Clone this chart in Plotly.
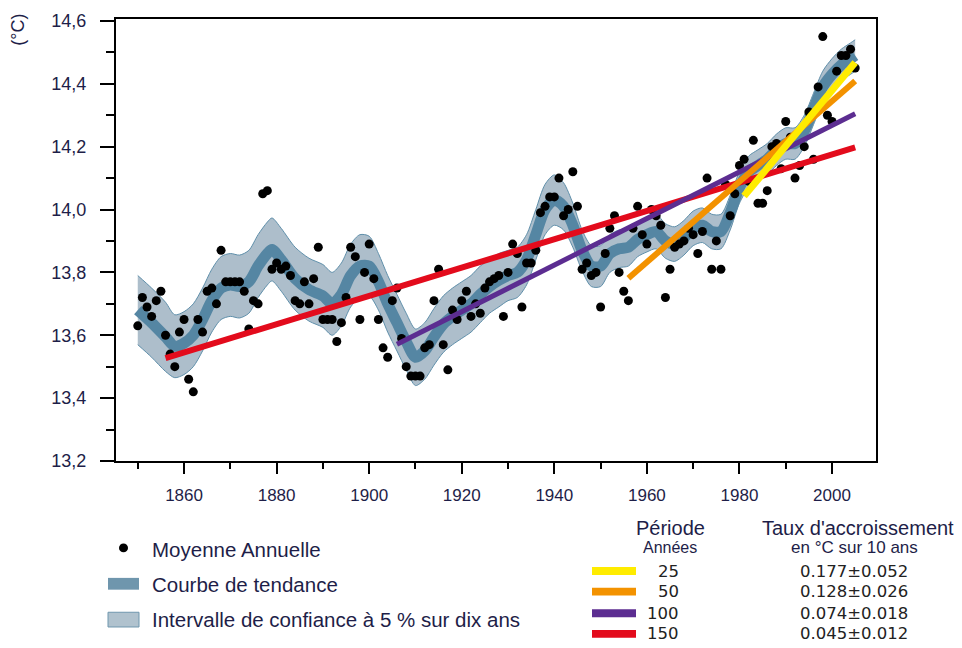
import plotly.graph_objects as go

# ---------------------------------------------------------------- data
years = list(range(1850, 2006))

annual_mean = [
    13.63, 13.72, 13.69, 13.66, 13.71, 13.74, 13.60, 13.54, 13.50, 13.61,  # 1850s
    13.65, 13.46, 13.42, 13.65, 13.61, 13.74, 13.75, 13.70, 13.87, 13.77,  # 1860s
    13.77, 13.77, 13.77, 13.74, 13.62, 13.71, 13.70, 14.05, 14.06, 13.81,  # 1870s
    13.83, 13.81, 13.82, 13.79, 13.71, 13.70, 13.77, 13.70, 13.78, 13.88,  # 1880s
    13.65, 13.65, 13.65, 13.58, 13.64, 13.72, 13.88, 13.85, 13.65, 13.80,  # 1890s
    13.89, 13.78, 13.65, 13.56, 13.53, 13.71, 13.75, 13.59, 13.50, 13.47,  # 1900s
    13.47, 13.47, 13.56, 13.57, 13.71, 13.81, 13.57, 13.49, 13.68, 13.65,  # 1910s
    13.71, 13.74, 13.66, 13.70, 13.67, 13.75, 13.77, 13.78, 13.79, 13.66,  # 1920s
    13.80, 13.89, 13.86, 13.69, 13.83, 13.83, 13.87, 13.99, 14.01, 14.04,  # 1930s
    14.04, 14.10, 13.98, 14.00, 14.12, 14.01, 13.81, 13.83, 13.79, 13.80,  # 1940s
    13.69, 13.86, 13.94, 13.98, 13.80, 13.74, 13.71, 13.94, 14.01, 13.92,  # 1950s
    13.89, 14.00, 13.98, 13.95, 13.72, 13.81, 13.88, 13.89, 13.90, 13.94,  # 1960s
    13.92, 13.86, 13.93, 14.10, 13.81, 13.90, 13.81, 14.08, 13.98, 14.05,  # 1970s
    14.14, 14.16, 14.09, 14.22, 14.02, 14.02, 14.06, 14.20, 14.21, 14.13,  # 1980s
    14.28, 14.23, 14.10, 14.14, 14.20, 14.31, 14.16, 14.39, 14.55, 14.30,  # 1990s
    14.28, 14.44, 14.49, 14.49, 14.51, 14.45,                              # 2000s
]

# smoothed trend curve and half-width of its 5 % confidence interval
trend_years = [
    1850, 1853, 1856, 1858, 1860, 1862, 1864, 1866, 1868, 1870, 1872, 1874,
    1876, 1878, 1879, 1881, 1884, 1887, 1890, 1892, 1894, 1896, 1898, 1900,
    1902, 1904, 1906, 1908, 1910, 1912, 1914, 1916, 1918, 1920, 1922, 1924,
    1926, 1928, 1930, 1932, 1934, 1936, 1938, 1940, 1942, 1944, 1946, 1948,
    1950, 1952, 1954, 1956, 1958, 1960, 1962, 1964, 1966, 1968, 1970, 1972,
    1974, 1976, 1978, 1980, 1982, 1984, 1986, 1988, 1990, 1992, 1994, 1996,
    1998, 2000, 2002, 2004, 2005,
]
trend_values = [
    13.68, 13.64, 13.595, 13.565, 13.575, 13.60, 13.65, 13.71, 13.75, 13.76, 13.755, 13.77,
    13.82, 13.86, 13.873, 13.84, 13.78, 13.745, 13.725, 13.70, 13.73, 13.79, 13.82, 13.82,
    13.77, 13.70, 13.64, 13.58, 13.53, 13.55, 13.595, 13.635, 13.66, 13.68, 13.70, 13.73,
    13.755, 13.775, 13.79, 13.80, 13.84, 13.92, 14.00, 14.03, 14.01, 13.95, 13.87, 13.82,
    13.82, 13.86, 13.875, 13.88, 13.905, 13.92, 13.93, 13.90, 13.89, 13.91, 13.94, 13.95,
    13.93, 13.93, 13.99, 14.07, 14.12, 14.14, 14.16, 14.19, 14.21, 14.21, 14.25, 14.32,
    14.39, 14.43, 14.46, 14.48, 14.49,
]
band_half_width = [
    0.11, 0.11, 0.11, 0.10, 0.10, 0.10, 0.10, 0.10, 0.10, 0.10, 0.10, 0.10,
    0.10, 0.10, 0.10, 0.10, 0.10, 0.10, 0.10, 0.10, 0.10, 0.10, 0.10, 0.095,
    0.09, 0.09, 0.09, 0.09, 0.09, 0.09, 0.09, 0.09, 0.09, 0.09, 0.09, 0.09,
    0.085, 0.085, 0.08, 0.08, 0.08, 0.08, 0.08, 0.08, 0.075, 0.07, 0.065, 0.065,
    0.065, 0.06, 0.06, 0.06, 0.055, 0.055, 0.055, 0.055, 0.055, 0.055, 0.055, 0.055,
    0.055, 0.055, 0.055, 0.05, 0.05, 0.05, 0.05, 0.05, 0.05, 0.05, 0.05, 0.05,
    0.05, 0.05, 0.05, 0.05, 0.05,
]

# linear trends: period length (years), rate (°C per 10 years), start year, mean level
periods = [25, 50, 100, 150]
rate_labels = ["0.177±0.052", "0.128±0.026", "0.074±0.018", "0.045±0.012"]
rates_per_decade = [0.177, 0.128, 0.074, 0.045]
start_years = [1981, 1956, 1906, 1856]
end_year = 2005
mid_levels = [14.255, 14.095, 13.938, 13.8625]
trend_colors = ["#ffec00", "#f39200", "#5c2d91", "#e30b1c"]
trend_widths = [7, 6, 5, 6]

y_ticks = [13.2, 13.4, 13.6, 13.8, 14.0, 14.2, 14.4, 14.6]
x_ticks = [1860, 1880, 1900, 1920, 1940, 1960, 1980, 2000]

# ---------------------------------------------------------------- styling
TXT = "#1e1e48"
FONT = "Arial, Liberation Sans, sans-serif"
BAND_FILL = "#adbecb"
BAND_EDGE = "#5f8faa"
CURVE = "#5586a3"

fig = go.Figure()

upper = [v + h for v, h in zip(trend_values, band_half_width)]
lower = [v - h for v, h in zip(trend_values, band_half_width)]

fig.add_trace(go.Scatter(x=trend_years, y=lower, mode="lines",
                         line=dict(color=BAND_EDGE, width=1, shape="spline", smoothing=0.8),
                         hoverinfo="skip", showlegend=False))
fig.add_trace(go.Scatter(x=trend_years, y=upper, mode="lines", fill="tonexty",
                         fillcolor=BAND_FILL,
                         line=dict(color=BAND_EDGE, width=1, shape="spline", smoothing=0.8),
                         hoverinfo="skip", showlegend=False))
fig.add_trace(go.Scatter(x=trend_years, y=trend_values, mode="lines",
                         line=dict(color=CURVE, width=11, shape="spline", smoothing=0.8),
                         showlegend=False))

fig.add_trace(go.Scatter(x=years, y=annual_mean, mode="markers",
                         marker=dict(color="black", size=9, line=dict(width=0)),
                         showlegend=False))

# linear trends, longest period drawn first
for i in reversed(range(len(periods))):
    slope = rates_per_decade[i] / 10.0
    x0, x1 = start_years[i], end_year
    xm = (x0 + x1) / 2.0
    y0 = mid_levels[i] + slope * (x0 - xm)
    y1 = mid_levels[i] + slope * (x1 - xm)
    fig.add_trace(go.Scatter(x=[x0, x1], y=[y0, y1], mode="lines",
                             line=dict(color=trend_colors[i], width=trend_widths[i]),
                             showlegend=False))

# ---------------------------------------------------------------- layout
L, T, R, B = 116, 11, 876, 461
W, H = 962, 648


def px(x):
    return (x - L) / (R - L)


def py(y):
    return (B - y) / (B - T)


fig.update_layout(
    width=W, height=H,
    margin=dict(l=L, r=W - R, t=T, b=H - B, pad=0),
    paper_bgcolor="white", plot_bgcolor="white",
    separators=", ",
    font=dict(family=FONT, color=TXT),
    showlegend=False,
    xaxis=dict(
        range=[1845.3, 2009.5], tickmode="array", tickvals=x_ticks,
        tickformat="d", showgrid=False, zeroline=False,
        showline=True, linecolor="black", linewidth=2, mirror=True,
        ticks="outside", ticklen=11, tickwidth=2, tickcolor="black",
        tickfont=dict(size=17, color=TXT), ticklabelstandoff=7,
        minor=dict(ticks="outside", ticklen=6, tickwidth=2, tickcolor="black",
                   tick0=1850, dtick=20),
    ),
    yaxis=dict(
        range=[13.2, 14.606], tickmode="array", tickvals=y_ticks,
        tickformat=".1f", showgrid=False, zeroline=False,
        showline=True, linecolor="black", linewidth=2, mirror=True,
        ticks="outside", ticklen=14, tickwidth=2, tickcolor="black",
        tickfont=dict(size=18, color=TXT), ticklabelstandoff=10,
        minor=dict(ticks="outside", ticklen=8, tickwidth=2, tickcolor="black",
                   tick0=13.3, dtick=0.2),
    ),
)

annotations = []
shapes = []


def label(text, x, y, size, anchor="center", family=None, color=TXT, angle=0):
    font = dict(size=size, color=color)
    if family:
        font["family"] = family
    annotations.append(dict(text=text, x=px(x), y=py(y), xref="paper", yref="paper",
                            showarrow=False, xanchor=anchor, yanchor="middle",
                            textangle=angle, font=font))


# axis unit
label("(°C)", 18, 22, 18, angle=-90)

# left legend block
shapes.append(dict(type="circle", xref="paper", yref="paper",
                   x0=px(119), x1=px(128), y0=py(545), y1=py(554),
                   fillcolor="black", line=dict(width=0)))
shapes.append(dict(type="rect", xref="paper", yref="paper",
                   x0=px(108), x1=px(139), y0=py(580), y1=py(592),
                   fillcolor="#6f96ad", line=dict(width=0)))
shapes.append(dict(type="rect", xref="paper", yref="paper",
                   x0=px(108), x1=px(139), y0=py(615), y1=py(630),
                   fillcolor="#b0c2ce", line=dict(width=1, color="#6f97ae")))
for text, yy in [("Moyenne Annuelle", 551), ("Courbe de tendance", 587),
                 ("Intervalle de confiance à 5 % sur dix ans", 622)]:
    label(text, 150, yy, 20.5, anchor="left")

# right legend block: header
label("Période", 670, 529, 20)
label("Années", 670, 549, 16)
label("Taux d'accroissement", 858, 529, 20)
label("en °C sur 10 ans", 854, 549, 17)

row_y = [573, 594, 616, 637]
for i, yy in enumerate(row_y):
    shapes.append(dict(type="rect", xref="paper", yref="paper",
                       x0=px(592), x1=px(636), y0=py(yy - 4), y1=py(yy + 4),
                       fillcolor=trend_colors[i], line=dict(width=0)))
    label(str(periods[i]), 681, yy, 16.5, anchor="right", family="DejaVu Sans",
          color="#222222")
    label(rate_labels[i], 854, yy, 16.5, family="DejaVu Sans", color="#222222")

fig.update_layout(annotations=annotations, shapes=shapes)

fig.write_html("out.html")
